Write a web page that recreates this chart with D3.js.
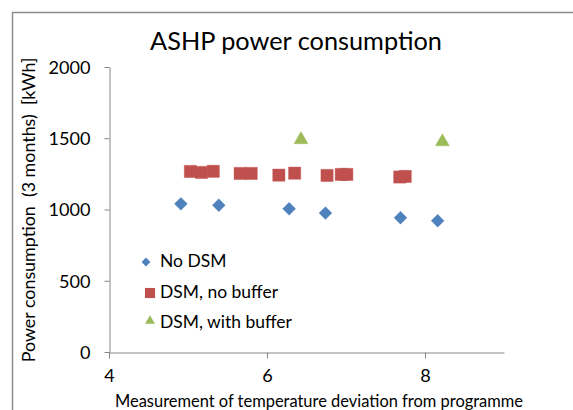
<!DOCTYPE html>
<html>
<head>
<meta charset="utf-8">
<script src="https://cdn.jsdelivr.net/npm/d3@7"></script>
<style>
  html, body { margin: 0; padding: 0; background: #fff; }
  svg { display: block; font-family: Lato, "Open Sans", sans-serif; }
</style>
</head>
<body>
<svg id="chart" width="573" height="410"></svg>
<script>
// ---- data ----
const seriesNames = ["No DSM", "DSM, no buffer", "DSM, with buffer"];
const noDsmX = [4.91, 5.39, 6.28, 6.74, 7.69, 8.16];
const noDsmY = [1040, 1030, 1005, 975, 942, 921];
const dsmNoBufferX = [5.03, 5.17, 5.32, 5.66, 5.80, 6.15, 6.35, 6.76, 6.94, 7.01, 7.68, 7.75];
const dsmNoBufferY = [1267, 1260, 1268, 1253, 1253, 1241, 1255, 1239, 1246, 1246, 1228, 1232];
const dsmBufferX = [6.43, 8.22];
const dsmBufferY = [1490, 1475];
const xTicks = [4, 6, 8];
const yTicks = [0, 500, 1000, 1500, 2000];
const titleText = "ASHP power consumption";
const xTitle = "Measurement of temperature deviation from programme";
const yTitle = "Power consumption  (3 months)  [kWh]";

// ---- layout ----
const svg = d3.select("#chart");
const colors = ["#4F81BD", "#C0504D", "#9BBB59"];
const axisColor = "#868686";

// fit a text element's font size so that its rendered width matches a target width
function fitWidth(sel, target, base) {
  sel.attr("font-size", base);
  const w = sel.node().getComputedTextLength();
  if (w > 0) sel.attr("font-size", (base * target / w).toFixed(2));
  return sel;
}

// outer chart border (extends beyond the visible area on right/bottom)
svg.append("rect")
  .attr("x", 12.5).attr("y", 12.5)
  .attr("width", 700).attr("height", 500)
  .attr("fill", "#fff").attr("stroke", "#8c8c8c").attr("stroke-width", 1.5);

const plot = { left: 109, right: 504, top: 67, bottom: 352 };
const x = d3.scaleLinear().domain([4, 9]).range([plot.left, plot.right]);
const y = d3.scaleLinear().domain([0, 2000]).range([plot.bottom, plot.top]);

// axes
const xAxis = d3.axisBottom(x).tickValues(xTicks).tickSize(6).tickSizeOuter(0).tickPadding(8)
  .tickFormat(d3.format("d"));
const yAxis = d3.axisLeft(y).tickValues(yTicks).tickSize(5).tickSizeOuter(0).tickPadding(14)
  .tickFormat(d3.format("d"));

const gx = svg.append("g").attr("transform", `translate(0,${plot.bottom + 0.5})`).call(xAxis);
const gy = svg.append("g").attr("transform", `translate(${plot.left + 0.5},0)`).call(yAxis);

[gx, gy].forEach(g => {
  g.attr("font-family", null).attr("font-size", null);
  g.select(".domain").attr("stroke", axisColor);
  g.selectAll(".tick line").attr("stroke", axisColor);
  g.selectAll(".tick text").attr("fill", "#000");
});
// tick font size: "2000" is about 42px wide in the reference
const probe = svg.append("text").attr("x", -100).attr("y", -100).text("2000");
fitWidth(probe, 42, 18);
const tickSize = +probe.attr("font-size");
probe.remove();
gx.selectAll(".tick text").attr("font-size", tickSize).attr("dy", "0.85em");
gy.selectAll(".tick text").attr("font-size", tickSize).attr("dy", "0.35em");

// title
fitWidth(svg.append("text").attr("x", 296).attr("y", 50).attr("text-anchor", "middle")
  .attr("fill", "#000").text(titleText), 292, 24);

// axis titles
fitWidth(svg.append("text").attr("x", 319).attr("y", 407).attr("text-anchor", "middle")
  .attr("fill", "#000").text(xTitle), 408, 16);
fitWidth(svg.append("text").attr("transform", "translate(35,210) rotate(-90)")
  .attr("text-anchor", "middle").attr("fill", "#000")
  .attr("xml:space", "preserve").style("white-space", "pre").text(yTitle), 305, 16);

// markers
const diamond = d3.symbol().type(d3.symbolDiamond2);
const square = d3.symbol().type(d3.symbolSquare2);
const triangle = d3.symbol().type(d3.symbolTriangle2);

function scatter(xs, ys, sym, size, color) {
  svg.append("g").selectAll("path")
    .data(xs.map((v, i) => [v, ys[i]]))
    .join("path")
    .attr("transform", d => `translate(${x(d[0])},${y(d[1])})`)
    .attr("d", sym.size(size)())
    .attr("fill", color)
    .attr("stroke", color).attr("stroke-opacity", 0.5).attr("stroke-width", 0.8);
}
scatter(noDsmX, noDsmY, diamond, 105, colors[0]);
scatter(dsmNoBufferX, dsmNoBufferY, square, 190, colors[1]);
scatter(dsmBufferX, dsmBufferY, triangle, 140, colors[2]);

// legend
const legendSyms = [diamond.size(50)(), square.size(130)(), triangle.size(70)()];
const legendMarkerX = [146, 150, 150];
const legendMarkerY = [262, 293, 321];
const legendTextY = [267, 298, 328];
const lg = svg.append("g");
let legendFont = null;
seriesNames.forEach((name, i) => {
  lg.append("path").attr("d", legendSyms[i])
    .attr("transform", `translate(${legendMarkerX[i]},${legendMarkerY[i]})`)
    .attr("fill", colors[i]);
  const t = lg.append("text").attr("x", 160).attr("y", legendTextY[i])
    .attr("fill", "#000").text(name);
  if (i === 2) { fitWidth(t, 132, 17); legendFont = t.attr("font-size"); }
});
lg.selectAll("text").attr("font-size", legendFont);
</script>
</body>
</html>
